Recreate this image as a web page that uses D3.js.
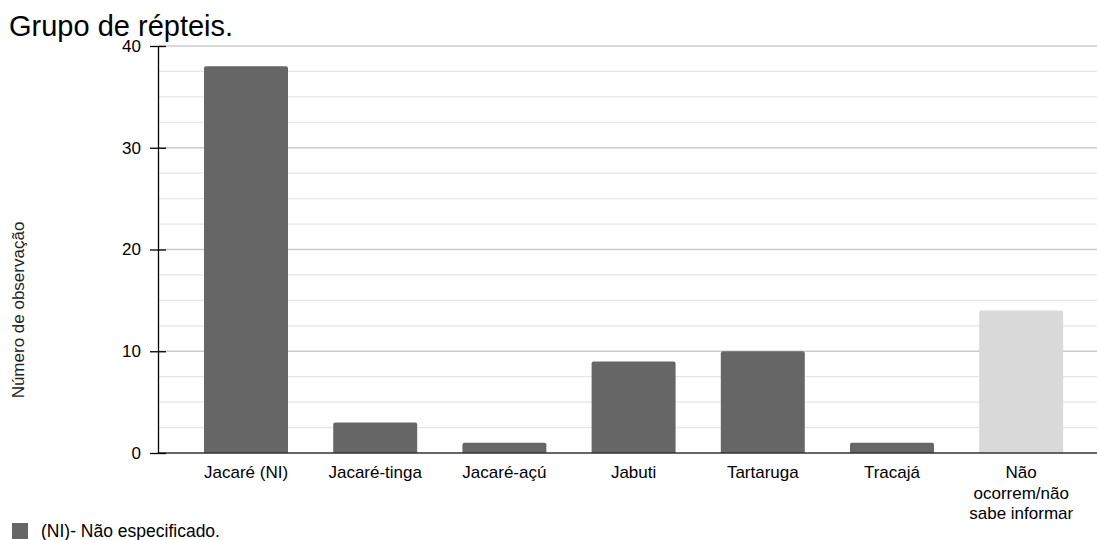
<!DOCTYPE html>
<html>
<head>
<meta charset="utf-8">
<script src="https://cdn.jsdelivr.net/npm/d3@7/dist/d3.min.js"></script>
<style>
  html, body { margin: 0; padding: 0; background: #fff; }
  svg { display: block; font-family: "Liberation Sans", Arial, sans-serif; }
</style>
</head>
<body>
<svg id="chart" width="1097" height="540"></svg>
<script>
// Répteis observados por categoria
const categories = ["Jacaré (NI)", "Jacaré-tinga", "Jacaré-açú", "Jabuti", "Tartaruga", "Tracajá", "Não ocorrem/não sabe informar"];
const labelLines = [["Jacaré (NI)"], ["Jacaré-tinga"], ["Jacaré-açú"], ["Jabuti"], ["Tartaruga"], ["Tracajá"], ["Não", "ocorrem/não", "sabe informar"]];
const values = [38, 3, 1, 9, 10, 1, 14];
const majorTicks = [0, 10, 20, 30, 40];
const minorTicks = [2.5, 5, 7.5, 12.5, 15, 17.5, 22.5, 25, 27.5, 32.5, 35, 37.5];
const titleText = "Grupo de répteis.";
const yTitle = "Número de observação";
const noteText = "(NI)- Não especificado.";

const svg = d3.select("#chart");
const W = 1097;
const axisX = 158;
const FS = 17;

const y = d3.scaleLinear().domain([0, 40]).range([453, 46]);
const x = d3.scaleBand().domain(categories).range([158.8, 1108.4]).padding(0.35);

// grid
svg.append("g").selectAll("line").data(minorTicks).join("line")
  .attr("x1", axisX).attr("x2", W)
  .attr("y1", d => y(d)).attr("y2", d => y(d))
  .attr("stroke", "#e6e6e6").attr("stroke-width", 1.3);
svg.append("g").selectAll("line").data(majorTicks.filter(d => d > 0)).join("line")
  .attr("x1", axisX).attr("x2", W)
  .attr("y1", d => y(d)).attr("y2", d => y(d))
  .attr("stroke", "#cccccc").attr("stroke-width", 1.3);

// bars
const barColor = (d, i) => i === categories.length - 1 ? "#d9d9d9" : "#666666";
svg.append("g").selectAll("path").data(values).join("path")
  .attr("fill", barColor)
  .attr("d", (d, i) => {
    const x0 = x(categories[i]), w = x.bandwidth(), y0 = y(d), y1 = y(0), r = 2;
    return `M${x0},${y1}V${y0 + r}Q${x0},${y0} ${x0 + r},${y0}H${x0 + w - r}Q${x0 + w},${y0} ${x0 + w},${y0 + r}V${y1}Z`;
  });

// baseline
svg.append("line").attr("x1", axisX).attr("x2", W)
  .attr("y1", y(0)).attr("y2", y(0)).attr("stroke", "#333").attr("stroke-width", 1.3);

// y axis
const yAxis = d3.axisLeft(y).tickValues(majorTicks).tickSize(0).tickPadding(17);
const gy = svg.append("g").attr("transform", `translate(${axisX},0)`).call(yAxis);
gy.select(".domain").attr("stroke", "#000").attr("stroke-width", 1.3);
gy.selectAll(".tick text").attr("font-size", FS).attr("fill", "#000")
  .attr("font-family", "Liberation Sans, Arial, sans-serif");
gy.selectAll(".tick").append("line").attr("x1", -8).attr("x2", 8)
  .attr("stroke", "#000").attr("stroke-width", 1.3);

// x labels
const xl = svg.append("g").selectAll("text").data(labelLines).join("text")
  .attr("text-anchor", "middle").attr("font-size", FS).attr("fill", "#000")
  .attr("x", (d, i) => x(categories[i]) + x.bandwidth() / 2)
  .attr("y", 478);
xl.selectAll("tspan").data(d => d).join("tspan")
  .attr("x", function () { return this.parentNode.getAttribute("x"); })
  .attr("dy", (d, j) => j === 0 ? 0 : 20.5)
  .text(d => d);

// y title
svg.append("text").attr("transform", "translate(24,310) rotate(-90)")
  .attr("text-anchor", "middle").attr("font-size", 17).attr("fill", "#222").text(yTitle);

// title
svg.append("text").attr("x", 9).attr("y", 36).attr("font-size", 29).attr("fill", "#000").text(titleText);

// note
svg.append("rect").attr("x", 12).attr("y", 523).attr("width", 16).attr("height", 16).attr("fill", "#666666");
svg.append("text").attr("x", 41).attr("y", 537).attr("font-size", 17.5).attr("fill", "#000").text(noteText);
</script>
</body>
</html>
